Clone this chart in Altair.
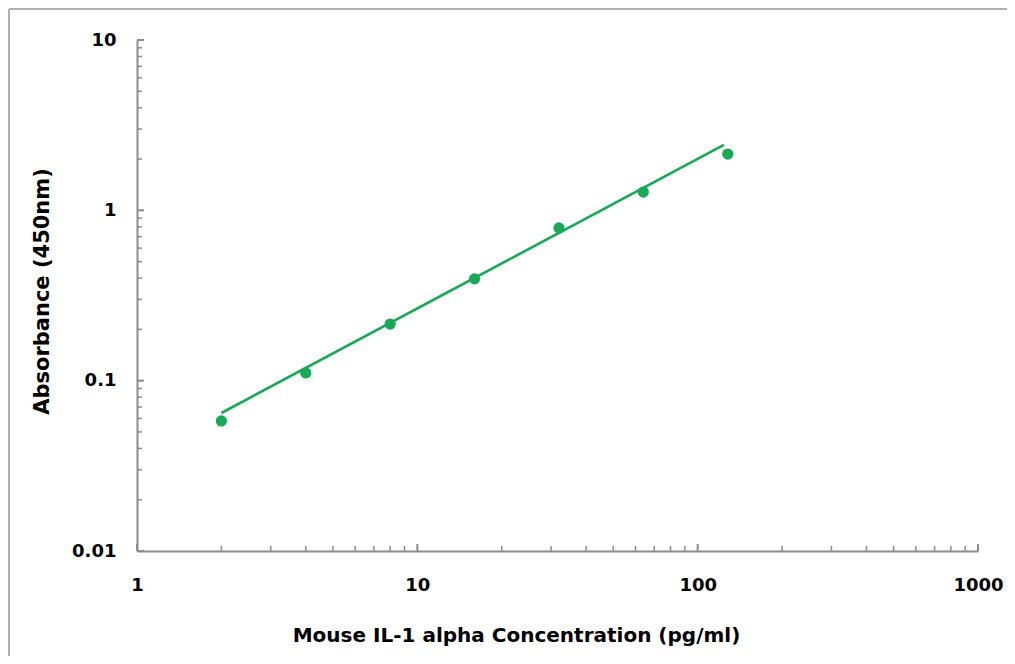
import altair as alt
import pandas as pd

# Data
conc = [2, 4, 8, 16, 32, 64, 128]
absorb = [0.058, 0.111, 0.215, 0.396, 0.788, 1.28, 2.14]
fit_x = [2, 124]
fit_y = [0.0646, 2.42]

x_major = [1, 10, 100, 1000]
x_minor = [2, 3, 4, 5, 6, 7, 8, 9, 20, 30, 40, 50, 60, 70, 80, 90,
           200, 300, 400, 500, 600, 700, 800, 900]
y_major = [0.01, 0.1, 1, 10]
y_minor = [0.02, 0.03, 0.04, 0.05, 0.06, 0.07, 0.08, 0.09,
           0.2, 0.3, 0.4, 0.5, 0.6, 0.7, 0.8, 0.9,
           2, 3, 4, 5, 6, 7, 8, 9]

W, H = 841, 511
GREEN = "#19a856"
AXIS_GRAY = "#8c8c8c"
FONT = "DejaVu Sans"

xscale = alt.Scale(type="log", domain=[1, 1000], nice=False)
yscale = alt.Scale(type="log", domain=[0.01, 10], nice=False)

xaxis = alt.Axis(values=x_major, format="~g", ticks=False, grid=False,
                 domain=True, domainColor=AXIS_GRAY, domainWidth=2,
                 labelFont=FONT, labelFontSize=18, labelFontWeight="bold",
                 labelColor="black", labelPadding=25, labelFlush=False,
                 title="Mouse IL-1 alpha Concentration (pg/ml)",
                 titleFont=FONT, titleFontSize=20, titleFontWeight="bold",
                 titleColor="black", titlePadding=31,
                 titleX=379, titleAlign="center", titleAnchor="start")
yaxis = alt.Axis(values=y_major, format="~g", ticks=False, grid=False,
                 domain=True, domainColor=AXIS_GRAY, domainWidth=2,
                 labelFont=FONT, labelFontSize=18, labelFontWeight="bold",
                 labelColor="black", labelPadding=21, labelFlush=False,
                 title="Absorbance (450nm)",
                 titleFont=FONT, titleFontSize=21, titleFontWeight="bold",
                 titleColor="black", titlePadding=19,
                 titleY=251, titleAlign="center", titleAnchor="start")

pts = pd.DataFrame({"x": conc, "y": absorb})
fit = pd.DataFrame({"x": fit_x, "y": fit_y})

base_axes = alt.Chart(pts).mark_point(opacity=0).encode(
    x=alt.X("x:Q", scale=xscale, axis=xaxis),
    y=alt.Y("y:Q", scale=yscale, axis=yaxis),
)

line = alt.Chart(fit).mark_line(color=GREEN, strokeWidth=2.6).encode(
    x=alt.X("x:Q", scale=xscale),
    y=alt.Y("y:Q", scale=yscale),
)

points = alt.Chart(pts).mark_circle(color=GREEN, size=125, opacity=1).encode(
    x=alt.X("x:Q", scale=xscale),
    y=alt.Y("y:Q", scale=yscale),
)

xticks_major = alt.Chart(pd.DataFrame({"x": x_major})).mark_rule(
    color=AXIS_GRAY, strokeWidth=2).encode(
    x=alt.X("x:Q", scale=xscale), y=alt.value(H), y2=alt.value(H - 7))
xticks_minor = alt.Chart(pd.DataFrame({"x": x_minor})).mark_rule(
    color=AXIS_GRAY, strokeWidth=1.5).encode(
    x=alt.X("x:Q", scale=xscale), y=alt.value(H), y2=alt.value(H - 5))
yticks_major = alt.Chart(pd.DataFrame({"y": y_major})).mark_rule(
    color=AXIS_GRAY, strokeWidth=2).encode(
    y=alt.Y("y:Q", scale=yscale), x=alt.value(0), x2=alt.value(7))
yticks_minor = alt.Chart(pd.DataFrame({"y": y_minor})).mark_rule(
    color=AXIS_GRAY, strokeWidth=1.5).encode(
    y=alt.Y("y:Q", scale=yscale), x=alt.value(0), x2=alt.value(5))

border_left = alt.Chart(pts).mark_rule(color="#b0b0b0", strokeWidth=2).encode(
    x=alt.value(-128), y=alt.value(-31), y2=alt.value(H + 120))
border_top = alt.Chart(pts).mark_rule(color="#b0b0b0", strokeWidth=2).encode(
    x=alt.value(-128), x2=alt.value(W + 40), y=alt.value(-31))

chart = alt.layer(
    border_left, border_top, base_axes,
    xticks_minor, xticks_major, yticks_minor, yticks_major,
    line, points,
).properties(
    width=W, height=H,
    autosize=alt.AutoSizeParams(type="none"),
    padding={"left": 129, "top": 32, "right": 29, "bottom": 105},
    background="white",
).configure_view(stroke=None)

chart.save("out.html", embed_options={"renderer": "svg", "actions": False})
